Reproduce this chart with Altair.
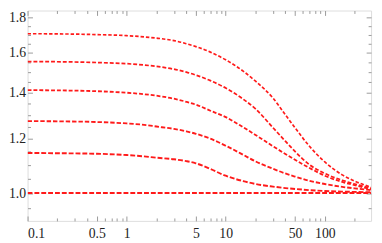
import altair as alt
import pandas as pd

# x sample positions (log axis)
x_vals = [0.1, 0.2, 0.5, 1, 1.5, 2, 3, 4, 5, 7, 10, 15, 20, 30, 40, 50, 70, 100, 150, 200, 293]

# series values (bottom to top)
s1 = [1.0, 1.0, 1.0, 1.0, 1.0, 1.0, 1.0, 1.0, 1.0, 1.0, 1.0, 1.0, 1.0, 1.0, 1.0, 1.0, 1.0, 1.0, 1.0, 1.0, 1.0]
s2 = [1.144, 1.143, 1.141, 1.136, 1.131, 1.126, 1.120, 1.113, 1.105, 1.084, 1.060, 1.041, 1.031, 1.022, 1.017, 1.014, 1.010, 1.007, 1.005, 1.004, 1.003]
s3 = [1.273, 1.272, 1.269, 1.263, 1.257, 1.250, 1.240, 1.230, 1.220, 1.200, 1.172, 1.137, 1.112, 1.085, 1.068, 1.057, 1.042, 1.031, 1.021, 1.016, 1.010]
s4 = [1.412, 1.411, 1.407, 1.400, 1.393, 1.386, 1.372, 1.358, 1.345, 1.318, 1.290, 1.247, 1.215, 1.170, 1.140, 1.118, 1.088, 1.060, 1.038, 1.027, 1.013]
s5 = [1.554, 1.553, 1.549, 1.543, 1.536, 1.529, 1.515, 1.500, 1.485, 1.458, 1.422, 1.370, 1.326, 1.245, 1.190, 1.150, 1.100, 1.068, 1.044, 1.031, 1.016]
s6 = [1.706, 1.705, 1.701, 1.695, 1.688, 1.681, 1.667, 1.650, 1.634, 1.604, 1.563, 1.505, 1.455, 1.375, 1.300, 1.245, 1.170, 1.110, 1.063, 1.041, 1.020]

series_names = ["s1", "s2", "s3", "s4", "s5", "s6"]
series_data = [s1, s2, s3, s4, s5, s6]
stroke_widths = [2.0, 1.7, 1.45, 1.2, 0.95, 0.75]
stroke_opacities = [1.0, 1.0, 0.95, 0.9, 0.8, 0.65]
stroke_dashes = [[5, 2], [5, 2], [4.5, 2], [4, 2], [4, 2], [3.5, 2]]

x_major = [0.1, 0.5, 1, 5, 10, 50, 100]
x_minor = [0.2, 0.3, 0.4, 0.6, 0.7, 0.8, 0.9, 2, 3, 4, 6, 7, 8, 9, 20, 30, 40, 60, 70, 80, 90, 200]
y_major = [1.0, 1.2, 1.4, 1.6, 1.8]
y_minor = [0.95, 1.05, 1.1, 1.15, 1.25, 1.3, 1.35, 1.45, 1.5, 1.55, 1.65, 1.7, 1.75, 1.85]

x_domain = [0.1, 293]
y_domain = [0.911, 1.844]

rows = []
for name, vals in zip(series_names, series_data):
    for xv, yv in zip(x_vals, vals):
        rows.append({"x": xv, "y": yv, "series": name})
df = pd.DataFrame(rows)

W, H = 351, 215
FONT = "Liberation Serif"
FSIZE = 14
FRAME = "#9a9a9a"


def tick_size(major):
    test = "indexof([" + ",".join(repr(v) for v in major) + "], datum.value) >= 0"
    return {"condition": {"test": test, "value": 5}, "value": 3}


xs = alt.Scale(type="log", domain=x_domain, nice=False)
ys = alt.Scale(type="log", domain=y_domain, nice=False, zero=False)

lines = alt.Chart(df).mark_line(clip=True, interpolate="monotone").encode(
    x=alt.X("x:Q", scale=xs, title=None,
            axis=alt.Axis(orient="bottom", values=x_major, format="~g", ticks=False,
                          domain=False, grid=False, labelFont=FONT, labelFontSize=FSIZE,
                          labelColor="#222222", labelPadding=6)),
    y=alt.Y("y:Q", scale=ys, title=None,
            axis=alt.Axis(orient="left", values=y_major, format=".1f", ticks=False,
                          domain=False, grid=False, labelFont=FONT, labelFontSize=FSIZE,
                          labelColor="#222222", labelPadding=2)),
    detail="series:N",
    strokeWidth=alt.StrokeWidth("series:N", scale=alt.Scale(domain=series_names, range=stroke_widths), legend=None),
    strokeDash=alt.StrokeDash("series:N", scale=alt.Scale(domain=series_names, range=stroke_dashes), legend=None),
    strokeOpacity=alt.StrokeOpacity("series:N", scale=alt.Scale(domain=series_names, range=stroke_opacities), legend=None),
    color=alt.value("#ff1a1a"),
)


def tick_layer(x_orient, y_orient):
    return alt.Chart(df).mark_point(opacity=0, size=1).encode(
        x=alt.X("x:Q", scale=xs, title=None,
                axis=alt.Axis(orient=x_orient, offset=-H, values=x_major + x_minor, labels=False,
                              domain=False, grid=False, ticks=True, tickColor=FRAME,
                              tickWidth=1, tickSize=tick_size(x_major))),
        y=alt.Y("y:Q", scale=ys, title=None,
                axis=alt.Axis(orient=y_orient, offset=-W, values=y_major + y_minor, labels=False,
                              domain=False, grid=False, ticks=True, tickColor=FRAME,
                              tickWidth=1, tickSize=tick_size(y_major))),
    )


chart = alt.layer(
    lines,
    tick_layer("top", "right"),
    tick_layer("bottom", "left"),
).resolve_axis(x="independent", y="independent").properties(
    width=W, height=H,
    autosize=alt.AutoSizeParams(type="none"),
    padding={"left": 20, "top": 0, "right": 3, "bottom": 20},
).configure_view(
    stroke=FRAME, strokeWidth=1
).configure_axis(
    labelFont=FONT, labelFontSize=FSIZE
).configure(background="white", font=FONT)

chart.save("out.html", embed_options={"renderer": "svg", "actions": False})
